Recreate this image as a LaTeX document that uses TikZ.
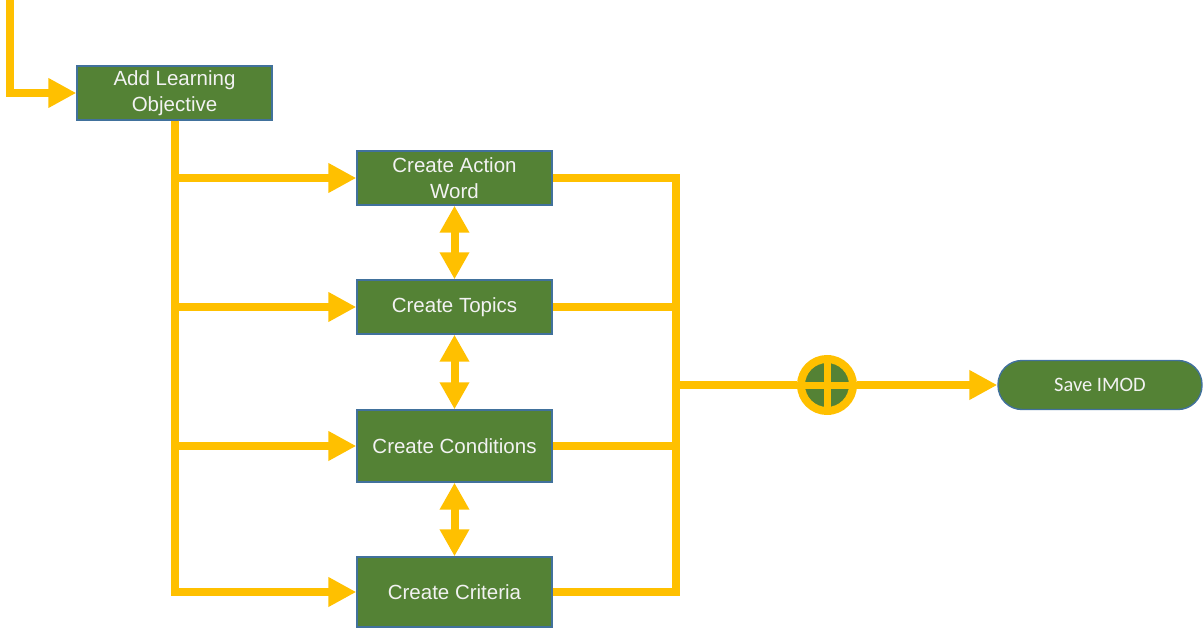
\documentclass[tikz,border=0pt]{standalone}
\usepackage{fontspec}
\setmainfont{Liberation Sans}
\newfontfamily\roundfont{Carlito}
\usetikzlibrary{arrows.meta}
\usetikzlibrary{positioning}
\definecolor{leafgreen}{HTML}{548235}
\definecolor{edgeblue}{HTML}{41719C}
\definecolor{amber}{HTML}{FFC000}
\definecolor{paper}{HTML}{F2F2F2}
\tikzset{task/.style = {draw=edgeblue, line width=1.4pt, fill=leafgreen, text=paper,
                        minimum width=195pt, minimum height=54pt, inner sep=0pt,
                        align=center, font=\fontsize{20.5}{25.5}\selectfont}}
\tikzset{terminal/.style = {task, rounded corners=24pt, minimum width=204pt, minimum height=49pt,
                            font=\roundfont\fontsize{20.5}{24}\selectfont}}
\tikzset{junction/.style = {circle, draw=amber, line width=8pt, fill=leafgreen,
                            minimum size=52pt, inner sep=0pt}}
\tikzset{link/.style = {draw=amber, line width=8pt}}
\tikzset{flow/.style = {link, -{Triangle[length=28pt, width=28pt]}}}
\tikzset{twoway/.style = {link, {Triangle[length=27pt, width=28pt]}-{Triangle[length=27pt, width=28pt]}}}

\begin{document}
\begin{tikzpicture}[x=1pt, y=-1pt]
    \useasboundingbox (0, 0) rectangle (1204, 628);

    \node [task] (objective) at (174.5, 93) {Add Learning\\Objective};
    \node [task] (action) at (454.5, 178) {Create Action\\Word};
    \node [task] (topics) at (454.5, 307) {Create Topics};
    \node [task, minimum height=72pt] (conditions) at (454.5, 446) {Create Conditions};
    \node [task, minimum height=70pt] (criteria) at (454.5, 592) {Create Criteria};
    \node [junction] (sum) at (827, 385) {};
    \node [terminal] (save) at (1100, 385) {Save IMOD};
    \coordinate (start) at (9.5, 0);
    \coordinate (merge) at (676, 385);

    \draw [flow] (start) |- (objective.west);

    % fan out from the objective
    \draw [flow] (objective.south) |- (action.west);
    \draw [flow] (objective.south) |- (topics.west);
    \draw [flow] (objective.south) |- (conditions.west);
    \draw [flow] (objective.south) |- (criteria.west);

    \draw [twoway] (action.south) -- (topics.north);
    \draw [twoway] (topics.south) -- (conditions.north);
    \draw [twoway] (conditions.south) -- (criteria.north);

    % gather back into the sum
    \draw [link] (action.east) -| (merge);
    \draw [link] (criteria.east) -| (merge);
    \draw [link] (topics.east) -- (topics.east -| merge);
    \draw [link] (conditions.east) -- (conditions.east -| merge);
    \draw [link] (merge) -- (sum.west);
    \draw [link, line width=7pt] (sum.north) -- (sum.south) (sum.west) -- (sum.east);
    \draw [flow] (sum.east) -- (save.west);
\end{tikzpicture}
\end{document}
